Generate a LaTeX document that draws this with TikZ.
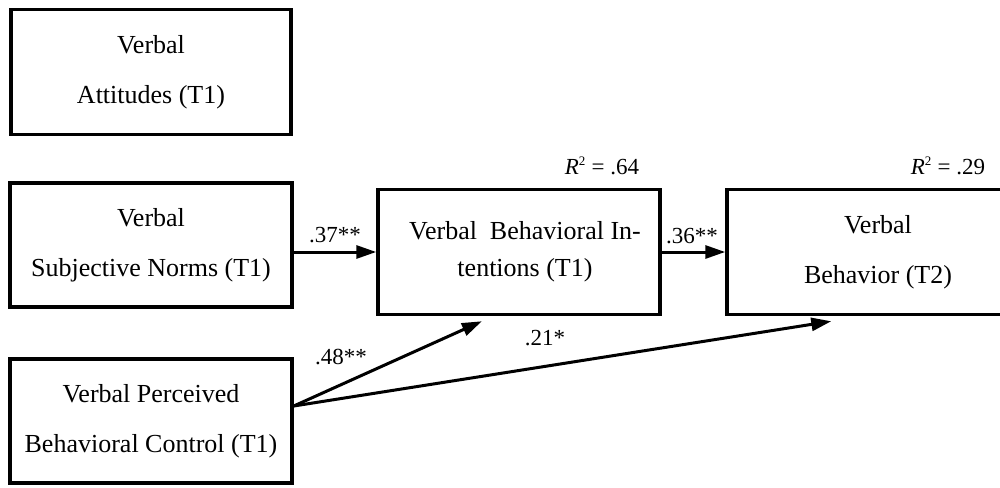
\documentclass[tikz,border=0pt]{standalone}
\usepackage{fontspec}
\setmainfont{Liberation Serif}
\usetikzlibrary{arrows.meta,calc}
\begin{document}
\begin{tikzpicture}[x=1pt,y=-1pt,
  varbox/.style={draw=black,line width=3.5pt,rectangle,align=center,inner sep=0pt,
    font=\fontsize{26}{50}\selectfont},
  path/.style={line width=3pt,-{Triangle[length=20pt,width=13pt]}},
  coef/.style={inner sep=0pt,font=\fontsize{23}{27}\selectfont}]
\clip (0,0) rectangle (1000,487);
\fill[white] (0,0) rectangle (1000,487);

% predictors
\node[varbox,minimum width=280pt,minimum height=125pt] (A) at (151,72) {\raisebox{-4pt}{Verbal}\\\raisebox{-4pt}{Attitudes (T1)}};
\node[varbox,minimum width=282pt,minimum height=124pt] (B) at (151,245) {\raisebox{-2pt}{Verbal}\\\raisebox{-2pt}{Subjective Norms (T1)}};
\node[varbox,minimum width=282pt,minimum height=124pt] (C) at (151,421) {\raisebox{-5pt}{Verbal Perceived}\\\raisebox{-5pt}{Behavioral Control (T1)}};

% outcomes
\node[varbox,minimum width=282pt,minimum height=125pt,font=\fontsize{26}{37}\selectfont] (I) at (519,252)
  {\hspace*{12pt}Verbal\ \ Behavioral In-\\\hspace*{12pt}tentions (T1)};
\node[varbox,minimum width=302pt,minimum height=125pt] (Y) at (878,252) {Verbal\\Behavior (T2)};

% explained variance
\node[coef,anchor=south] (r1) at ($(I.north)+(83,-13)$) {\textit{R}\textsuperscript{\fontsize{13}{13}\selectfont 2} = .64};
\node[coef,anchor=south] (r2) at ($(Y.north)+(70,-13)$) {\textit{R}\textsuperscript{\fontsize{13}{13}\selectfont 2} = .29};

% paths
\coordinate (cs) at ($(C.east)+(0,-15)$);
\coordinate (tI) at ($(I.south west)!0.37!(I.south east)+(0,5)$);
\coordinate (tY) at ($(Y.south west)+(106,5)$);

\draw[path] (I.west -| B.east) -- (I.west);
\draw[path] (I.east) -- (Y.west |- I.east);
\draw[path] (cs) -- (tI);
\draw[path] (cs) -- (tY);

\node[coef] (p1) at (335,235) {.37**};
\node[coef] (p2) at (692,236) {.36**};
\node[coef] (p3) at (341,357) {.48**};
\node[coef] (p4) at (545,338) {.21*};
\end{tikzpicture}
\end{document}
